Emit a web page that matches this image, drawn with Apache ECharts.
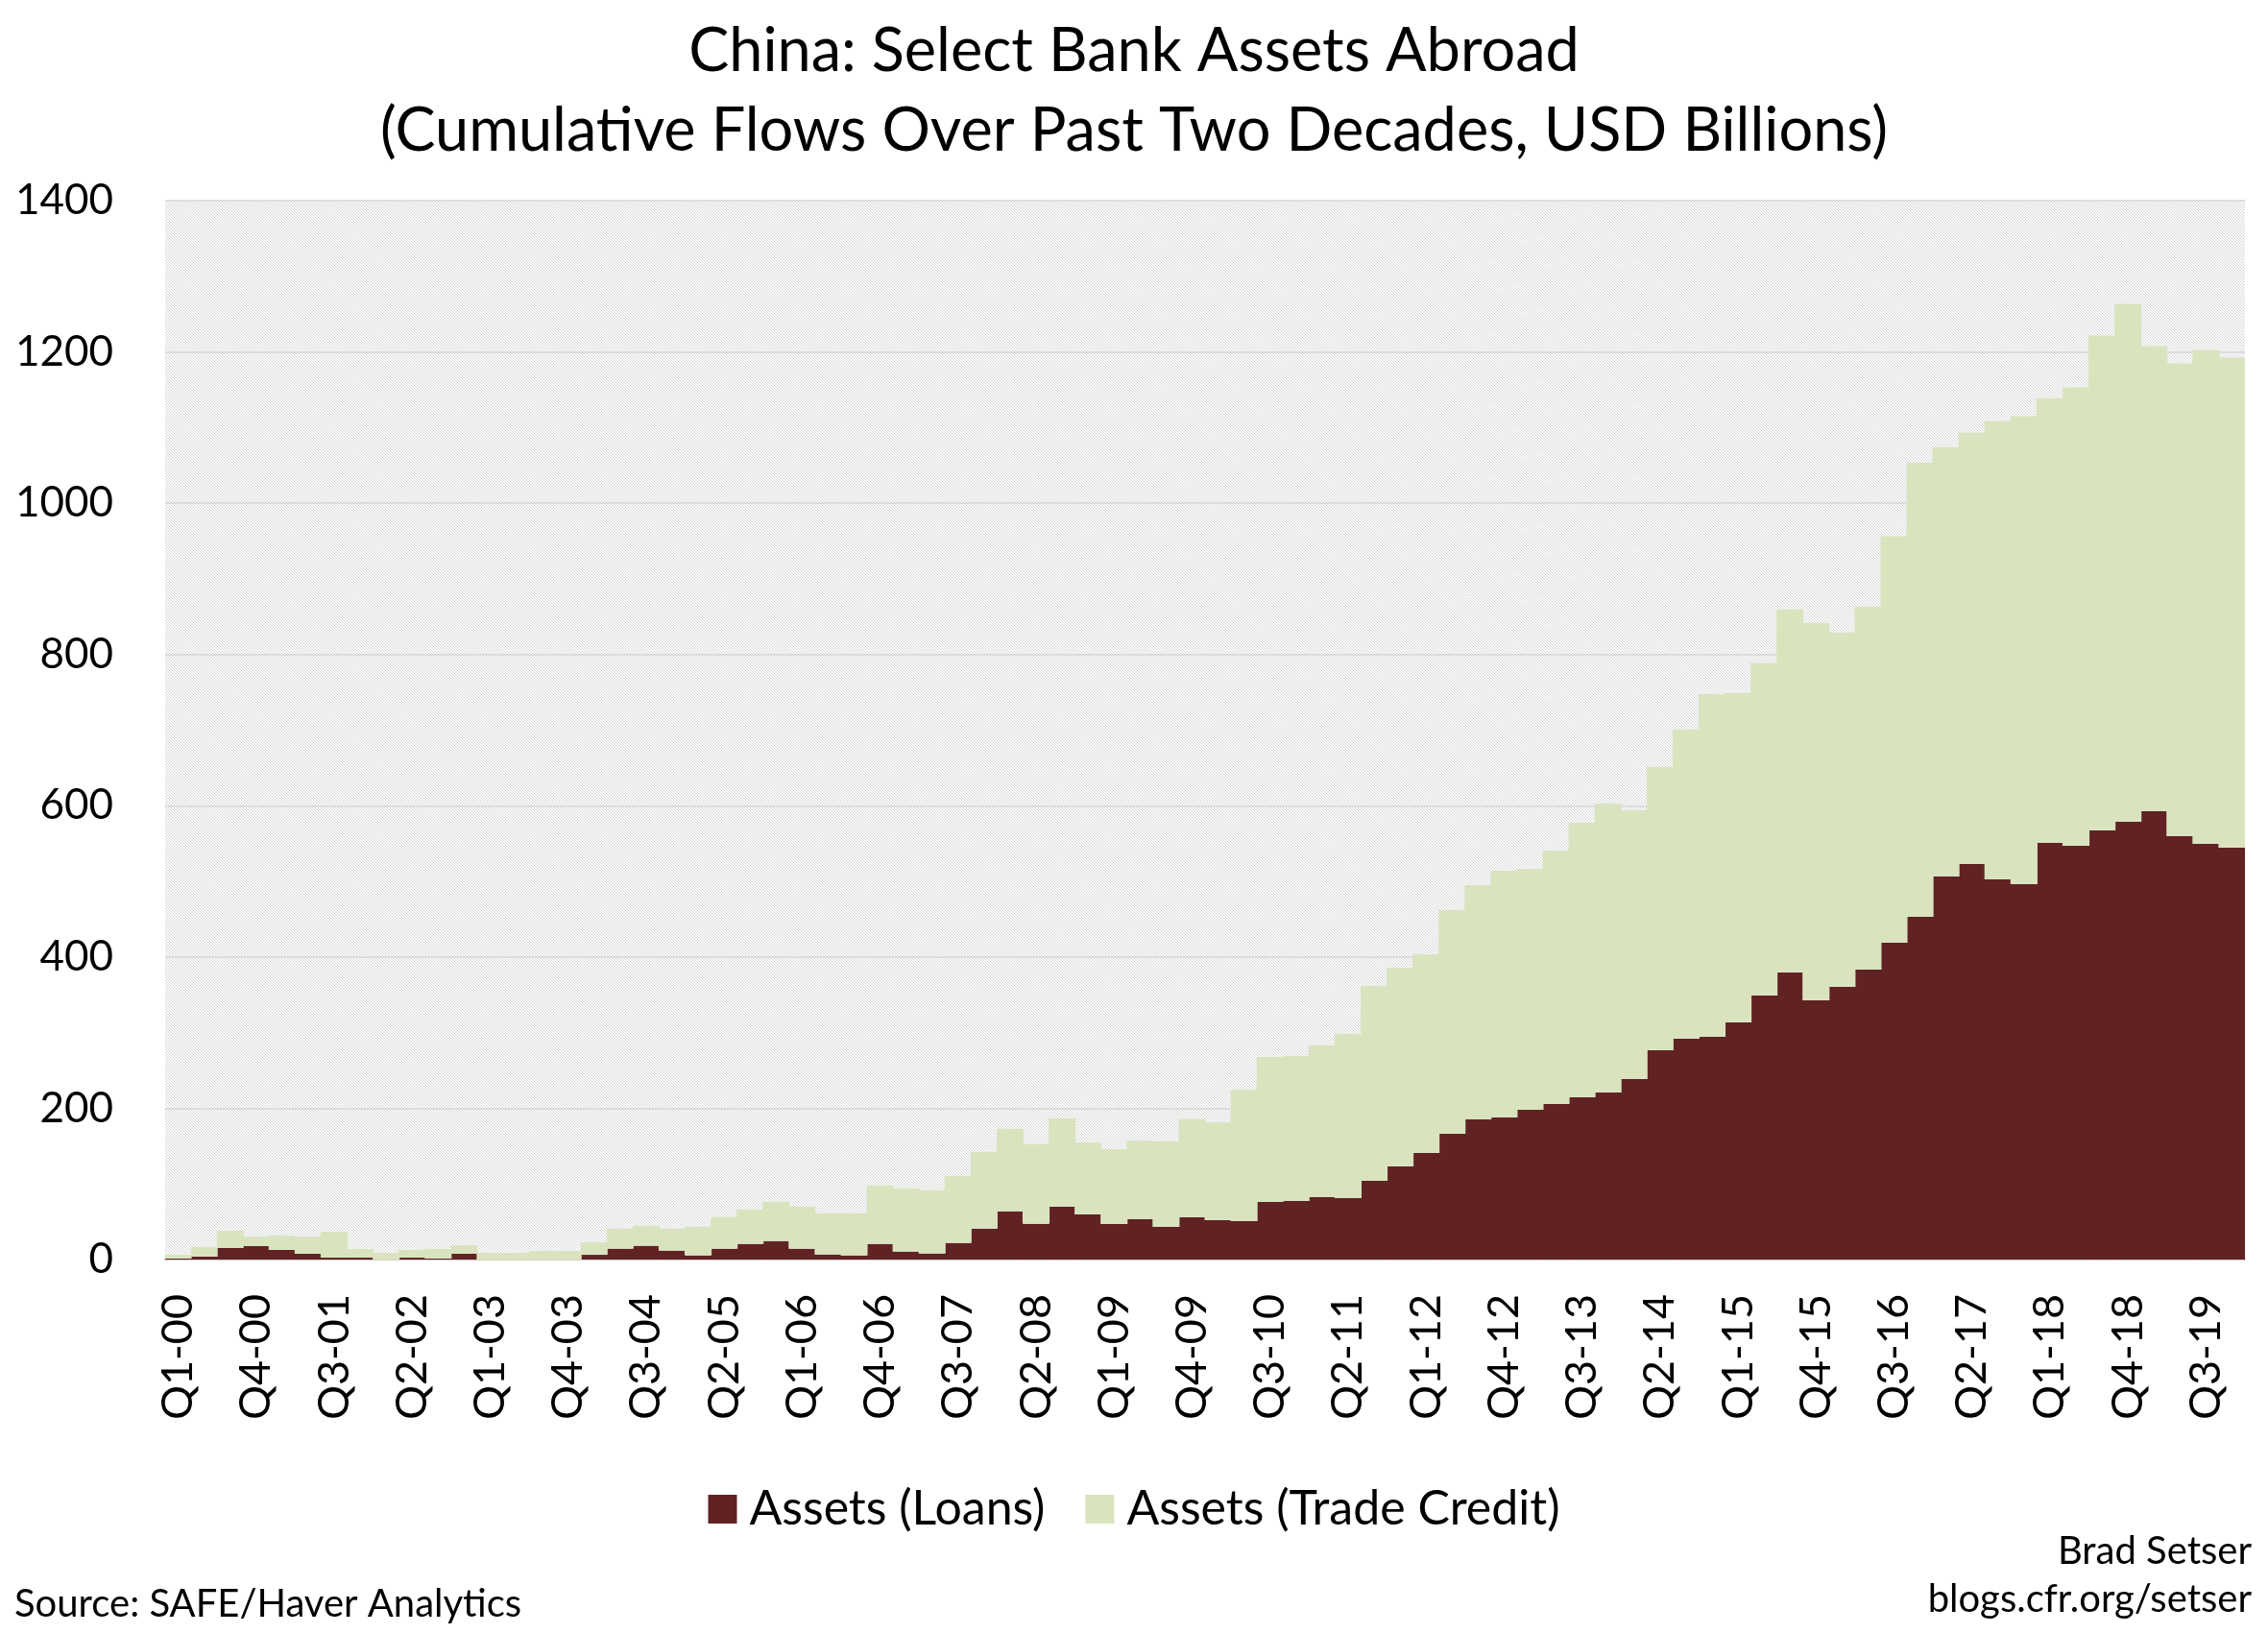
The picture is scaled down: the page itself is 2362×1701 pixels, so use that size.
<!DOCTYPE html>
<html>
<head>
  <meta charset="utf-8">
  <title>China: Select Bank Assets Abroad</title>
  <style>
  body { margin: 0; background: #fff; }
  #chart { width: 2362px; height: 1701px; }
  </style>
</head>
<body>
  <div id="chart"></div>
  <script src="https://cdn.jsdelivr.net/npm/echarts@6/dist/echarts.min.js"></script>
  <script>
  // quarters Q1-00 .. Q4-19
  const quarters = [];
  for (let y = 0; y < 20; y++) {
    for (let q = 1; q <= 4; q++) {
      quarters.push('Q' + q + '-' + String(y).padStart(2, '0'));
    }
  }

  // USD billions, cumulative flows
  const loans = [
    1.3, 3.8, 15.2, 17.8, 12.7, 7.6, 2.5, 2.5,
    0, 2.5, 1.3, 7.6, 0, 0, 0, 0,
    6.3, 14.4, 18.2, 11.8, 5.5, 14.4, 20.7, 24.5,
    14.4, 6.8, 5.5, 20.7, 10.6, 8, 22, 41,
    63.9, 47.4, 69.8, 59.6, 47, 53.3, 43.1, 55.8,
    52, 50.8, 76.1, 77.4, 82.5, 81.2, 104, 123.1,
    140.9, 166.2, 185.3, 187.8, 198, 205.6, 214.5, 220.8,
    238.6, 276.6, 291.9, 294.4, 313.5, 349, 379.4, 342.6,
    360.4, 383.2, 418.8, 453, 506.3, 522.8, 502.5, 496.2,
    550.8, 547, 567.3, 578.7, 592.6, 559.6, 549.5, 544.4
  ];

  const tradeCredit = [
    5.0, 12.7, 22.8, 12.7, 19.0, 22.9, 34.3, 11.5,
    8.9, 10.2, 12.7, 11.4, 8.9, 8.9, 11.4, 11.4,
    16.5, 26.6, 26.6, 29.2, 38.1, 41.9, 45.7, 52.1,
    55.8, 54.5, 55.8, 77.4, 83.7, 83.8, 88.8, 101.6,
    109.1, 105.3, 116.7, 95.2, 99.0, 104.1, 112.9, 130.2,
    129.5, 173.8, 191.7, 191.6, 200.5, 217.0, 257.7, 262.7,
    262.7, 295.8, 309.6, 326.2, 318.5, 335.0, 362.9, 382.2,
    355.4, 375.0, 409.1, 453.6, 435.8, 439.6, 480.2, 499.3,
    468.8, 480.2, 537.6, 600.7, 567.7, 570.6, 606.1, 618.8,
    588.2, 606.0, 654.3, 684.8, 615.0, 625.2, 653.0, 648.0
  ];

  const yTicks = [0, 200, 400, 600, 800, 1000, 1200, 1400];

  // fine diagonal hatch for the plot background
  const hatch = document.createElement('canvas');
  hatch.width = 3;
  hatch.height = 3;
  const ctx = hatch.getContext('2d');
  ctx.fillStyle = '#ffffff';
  ctx.fillRect(0, 0, 3, 3);
  ctx.fillStyle = '#d2d2d2';
  for (let i = 0; i < 3; i++) ctx.fillRect(i, i, 1, 1);

  const font = 'Lato, "Open Sans", sans-serif';
  const titleStyle = { fontFamily: font, fontSize: 63, fontWeight: 'normal', color: '#000' };

  let option = {
    backgroundColor: '#ffffff',
    textStyle: { fontFamily: font, color: '#000' },
    title: [{
      text: 'China: Select Bank Assets Abroad',
      left: 'center',
      top: 22,
      padding: 0,
      textStyle: titleStyle
    }, {
      text: '(Cumulative Flows Over Past Two Decades, USD Billions)',
      left: 'center',
      top: 105,
      padding: 0,
      textStyle: titleStyle
    }],
    legend: {
      top: 1542,
      left: 'center',
      icon: 'rect',
      itemWidth: 30,
      itemHeight: 30,
      itemGap: 42,
      textStyle: { fontFamily: font, fontSize: 50, color: '#000', padding: [0, 0, 0, 8] },
      data: ['Assets (Loans)', 'Assets (Trade Credit)']
    },
    grid: {
      left: 172,
      right: 24,
      top: 209,
      bottom: 389,
      show: true,
      borderWidth: 0,
      backgroundColor: { image: hatch, repeat: 'repeat' }
    },
    xAxis: {
      type: 'category',
      data: quarters,
      axisTick: { show: false },
      splitLine: { show: false },
      axisLine: { show: true, lineStyle: { color: '#cfcfcf', width: 2 } },
      axisLabel: {
        interval: 2,
        rotate: 90,
        margin: 36,
        fontSize: 45,
        color: '#000',
        fontFamily: font
      }
    },
    yAxis: {
      type: 'value',
      min: yTicks[0],
      max: yTicks[yTicks.length - 1],
      interval: 200,
      axisLine: { show: false },
      axisTick: { show: false },
      axisLabel: {
        fontSize: 44,
        color: '#000',
        margin: 54,
        fontFamily: font,
        formatter: v => String(v)
      },
      splitLine: { show: true, lineStyle: { color: '#d6d6d6', width: 1.5 } }
    },
    series: [{
      name: 'Assets (Loans)',
      type: 'bar',
      stack: 'assets',
      barCategoryGap: '0%',
      barWidth: '104%',
      itemStyle: { color: '#612224', borderWidth: 0 },
      data: loans
    }, {
      name: 'Assets (Trade Credit)',
      type: 'bar',
      stack: 'assets',
      barCategoryGap: '0%',
      barWidth: '104%',
      itemStyle: { color: '#d9e4bf', borderWidth: 0 },
      data: tradeCredit
    }],
    graphic: [{
      type: 'text',
      left: 15,
      top: 1651,
      style: { text: 'Source: SAFE/Haver Analytics', fontSize: 40, fontFamily: font, fill: '#000' }
    }, {
      type: 'text',
      right: 17,
      top: 1596,
      style: { text: 'Brad Setser', fontSize: 40, fontFamily: font, fill: '#000', textAlign: 'right' }
    }, {
      type: 'text',
      right: 17,
      top: 1646,
      style: { text: 'blogs.cfr.org/setser', fontSize: 40, fontFamily: font, fill: '#000', textAlign: 'right' }
    }]
  };

  let myChart = echarts.init(document.getElementById('chart'));
  myChart.setOption(option);
  </script>
</body>
</html>
